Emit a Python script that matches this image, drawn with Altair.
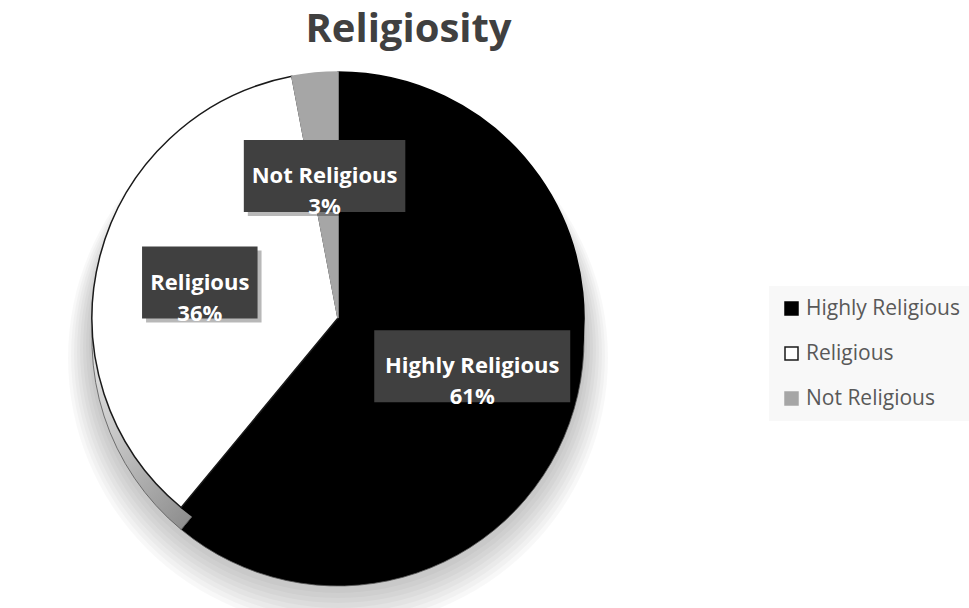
import altair as alt
import pandas as pd

# ---- data ----
categories = ["Highly Religious", "Religious", "Not Religious"]
values = [61, 36, 3]
order_idx = [0, 1, 2]

# ---- styles ----
top_colors = ["#000000", "#ffffff", "#a6a6a6"]
edge_colors = ["#000000", "#1a1a1a", "#a6a6a6"]

df = pd.DataFrame({"category": categories, "value": values, "idx": order_idx})

W, H = 969, 550
TOP = 58
CX, CY = 338, 260
R = 246
DEPTH = 22
K = 0.58
BH = 72

side_gradient = {
    "gradient": "linear",
    "x1": 0, "y1": 0.45, "x2": 0.35, "y2": 1,
    "stops": [
        {"offset": 0, "color": "#eeeeee"},
        {"offset": 0.5, "color": "#c8c8c8"},
        {"offset": 1, "color": "#8f8f8f"},
    ],
}

base = (
    alt.Chart(df)
    .transform_joinaggregate(total="sum(value)")
    .transform_window(cum="sum(value)", sort=[alt.SortField("idx")], frame=[None, 0])
    .transform_calculate(
        mid="2*PI*(datum.cum - datum.value/2)/datum.total",
        pct="format(datum.value/datum.total, '.0%')",
    )
    .transform_calculate(
        lx=f"{CX} + sin(datum.mid)*{R}*{K}",
        ly=f"{CY} - cos(datum.mid)*{R}*{K}",
        bw="length(datum.category)*11.5 + 12",
        label="datum.category + '\\n' + datum.pct",
    )
    .transform_calculate(
        bx="datum.lx - datum.bw/2",
        bx2="datum.lx + datum.bw/2",
        by=f"datum.ly - {BH/2}",
        by2=f"datum.ly + {BH/2}",
    )
)

# soft shadow under the pie (stacked translucent discs, shifted downward)
shadow_data = alt.Data(values=[{"s": 1}])
shadows = []
for i in range(1, 9):
    e = 3 * i
    s = 2 + 2 * i
    shadows.append(
        alt.Chart(shadow_data)
        .mark_arc(radius=R + e, color="#000000", opacity=0.028)
        .encode(
            x=alt.value(CX),
            y=alt.value(CY + DEPTH + s),
        )
    )

theta = alt.Theta("value:Q", stack=True)
order = alt.Order("idx:Q")

side = base.mark_arc(radius=R, stroke="#555555", strokeWidth=0.8).encode(
    theta=theta,
    order=order,
    fill=alt.condition("datum.idx == 1", alt.value(side_gradient), alt.value("#000000")),
    x=alt.value(CX),
    y=alt.value(CY + DEPTH),
)

pie = base.mark_arc(radius=R, strokeWidth=1.5).encode(
    theta=theta,
    order=order,
    color=alt.Color(
        "category:N",
        sort=categories,
        scale=alt.Scale(domain=categories, range=top_colors),
        legend=alt.Legend(
            title=None,
            orient="none",
            legendX=769,
            legendY=228,
            symbolType="square",
            symbolSize=169,
            labelFont="Open Sans",
            labelFontSize=21,
            labelColor="#595959",
            labelOffset=4,
            rowPadding=23,
            padding=12,
            fillColor="#f8f8f8",
        ),
    ),
    stroke=alt.Stroke(
        "category:N",
        sort=categories,
        scale=alt.Scale(domain=categories, range=edge_colors),
    ),
    x=alt.value(CX),
    y=alt.value(CY),
)

box_shadow = base.mark_rect(color="#000000", opacity=0.28, xOffset=4, yOffset=4, x2Offset=4, y2Offset=4).encode(
    x=alt.X("bx:Q", scale=None, axis=None),
    x2="bx2:Q",
    y=alt.Y("by:Q", scale=None, axis=None),
    y2="by2:Q",
)

box = base.mark_rect(color="#404040").encode(
    x=alt.X("bx:Q", scale=None, axis=None),
    x2="bx2:Q",
    y=alt.Y("by:Q", scale=None, axis=None),
    y2="by2:Q",
)

text = base.mark_text(
    font="Open Sans",
    fontWeight="bold",
    fontSize=22,
    color="#ffffff",
    lineBreak="\n",
    lineHeight=31,
    baseline="middle",
    align="center",
).encode(
    x=alt.X("lx:Q", scale=None, axis=None),
    y=alt.Y("ly:Q", scale=None, axis=None),
    text="label:N",
)

chart = (
    alt.layer(*shadows, side, pie, box_shadow, box, text)
    .properties(
        width=W,
        height=H,
        background="#ffffff",
        title=alt.TitleParams(
            "Religiosity",
            font="Open Sans",
            fontSize=40,
            fontWeight="bold",
            color="#404040",
            anchor="middle",
            dx=-76,
            offset=8,
        ),
        autosize=alt.AutoSizeParams(type="none"),
        padding={"top": TOP, "left": 0, "right": 0, "bottom": 0},
    )
    .configure_view(strokeOpacity=0, strokeWidth=0)
)

chart.save("out.html", embed_options={"renderer": "svg", "actions": False})
